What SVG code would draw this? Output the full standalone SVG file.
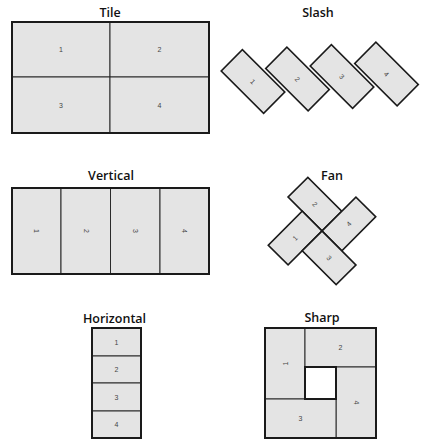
<svg xmlns="http://www.w3.org/2000/svg" width="421" height="439" viewBox="0 0 421 439">
<style>
.title{font-family:"Open Sans","Liberation Sans",sans-serif;font-weight:600;font-size:12.5px;fill:#111;text-anchor:middle}
.cell{fill:#e4e4e4;stroke:#2a2a2a;stroke-width:1}
.rot{fill:#e4e4e4;stroke:#1a1a1a;stroke-width:1.6}
.frame{fill:none;stroke:#1a1a1a;stroke-width:2}
.lbl{font-family:"Liberation Sans",Arial,sans-serif;font-size:7px;fill:#444;text-anchor:middle;dominant-baseline:central}
</style>
<rect width="421" height="439" fill="#ffffff"/>

<g id="tile">
<text class="title" x="110" y="17">Tile</text>
<g id="tile-1"><rect class="cell" x="12" y="22" width="98" height="55"/><text class="lbl" x="61" y="49.5">1</text></g>
<g id="tile-2"><rect class="cell" x="110" y="22" width="99" height="55"/><text class="lbl" x="159.5" y="49.5">2</text></g>
<g id="tile-3"><rect class="cell" x="12" y="77" width="98" height="56"/><text class="lbl" x="61" y="105">3</text></g>
<g id="tile-4"><rect class="cell" x="110" y="77" width="99" height="56"/><text class="lbl" x="159.5" y="105">4</text></g>
<rect class="frame" x="12" y="22" width="197" height="111"/>
</g>

<g id="slash">
<text class="title" x="318" y="17">Slash</text>
<g id="slash-1" transform="translate(253,81.5) rotate(45)"><rect class="rot" x="-30" y="-15" width="60" height="30"/><text class="lbl" x="0" y="0">1</text></g>
<g id="slash-2" transform="translate(297.5,79) rotate(45)"><rect class="rot" x="-30" y="-15" width="60" height="30"/><text class="lbl" x="0" y="0">2</text></g>
<g id="slash-3" transform="translate(342,76.5) rotate(45)"><rect class="rot" x="-30" y="-15" width="60" height="30"/><text class="lbl" x="0" y="0">3</text></g>
<g id="slash-4" transform="translate(386.5,74) rotate(45)"><rect class="rot" x="-30" y="-15" width="60" height="30"/><text class="lbl" x="0" y="0">4</text></g>
</g>

<g id="vertical">
<text class="title" x="111" y="180">Vertical</text>
<g id="vertical-1"><rect class="cell" x="12" y="188" width="49" height="86"/><text class="lbl" transform="translate(36.5,231) rotate(90)">1</text></g>
<g id="vertical-2"><rect class="cell" x="61" y="188" width="49.5" height="86"/><text class="lbl" transform="translate(86,231) rotate(90)">2</text></g>
<g id="vertical-3"><rect class="cell" x="110.5" y="188" width="49.5" height="86"/><text class="lbl" transform="translate(135,231) rotate(90)">3</text></g>
<g id="vertical-4"><rect class="cell" x="160" y="188" width="49" height="86"/><text class="lbl" transform="translate(184.5,231) rotate(90)">4</text></g>
<rect class="frame" x="12" y="188" width="197" height="86"/>
</g>

<g id="fan">
<text class="title" x="332" y="180">Fan</text>
<g transform="translate(322,231) rotate(-45)">
<g id="fan-2"><rect class="rot" x="0" y="-48" width="28" height="48"/><text class="lbl" transform="translate(14,-24) rotate(90)">2</text></g>
<g id="fan-4"><rect class="rot" x="0" y="0" width="48" height="28"/><text class="lbl" x="24" y="14">4</text></g>
<g id="fan-1"><rect class="rot" x="-48" y="-28" width="48" height="28"/><text class="lbl" x="-24" y="-14">1</text></g>
<g id="fan-3"><rect class="rot" x="-28" y="0" width="28" height="48"/><text class="lbl" transform="translate(-14,24) rotate(90)">3</text></g>
</g>
</g>

<g id="horizontal">
<text class="title" x="114.5" y="323">Horizontal</text>
<g id="horizontal-1"><rect class="cell" x="92" y="328" width="49" height="28"/><text class="lbl" x="116.5" y="342">1</text></g>
<g id="horizontal-2"><rect class="cell" x="92" y="356" width="49" height="27"/><text class="lbl" x="116.5" y="369.5">2</text></g>
<g id="horizontal-3"><rect class="cell" x="92" y="383" width="49" height="28"/><text class="lbl" x="116.5" y="397">3</text></g>
<g id="horizontal-4"><rect class="cell" x="92" y="411" width="49" height="27"/><text class="lbl" x="116.5" y="424.5">4</text></g>
<rect class="frame" x="92" y="328" width="49" height="110"/>
</g>

<g id="sharp">
<text class="title" x="322" y="322">Sharp</text>
<g id="sharp-1"><rect class="cell" x="265" y="328" width="40" height="71"/><text class="lbl" transform="translate(285,363.5) rotate(-90)">1</text></g>
<g id="sharp-2"><rect class="cell" x="305" y="328" width="71" height="39"/><text class="lbl" x="340.5" y="347.5">2</text></g>
<g id="sharp-4"><rect class="cell" x="336" y="367" width="40" height="71"/><text class="lbl" transform="translate(356,402.5) rotate(90)">4</text></g>
<g id="sharp-3"><rect class="cell" x="265" y="399" width="71" height="39"/><text class="lbl" x="300.5" y="418.5">3</text></g>
<rect x="305" y="367" width="31" height="32" fill="#ffffff" stroke="#1a1a1a" stroke-width="2"/>
<rect class="frame" x="265" y="328" width="111" height="110"/>
</g>
</svg>
